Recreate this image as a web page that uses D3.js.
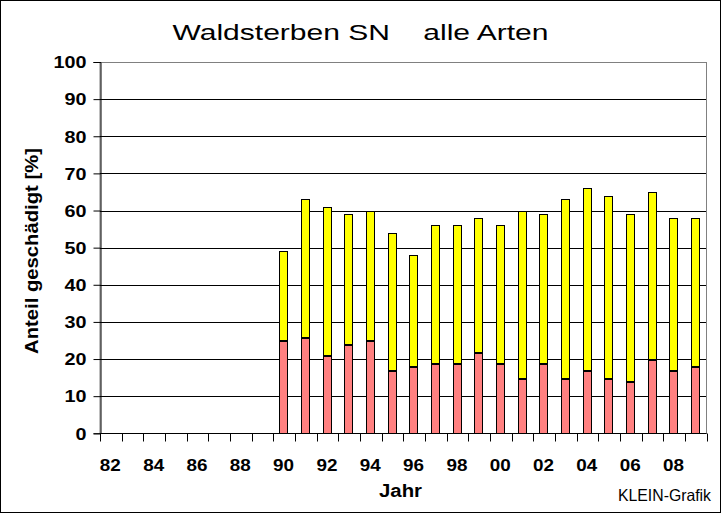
<!DOCTYPE html>
<html lang="de">
<head>
  <meta charset="utf-8" />
  <title>Waldsterben SN alle Arten</title>
  <script src="https://cdn.jsdelivr.net/npm/d3@7"></script>
  <style>
body{ margin:0; background:#fff; }
svg{ display:block; font-family: Arial, "Liberation Sans", sans-serif; }
  </style>
</head>
<body>
  <svg></svg>
  <script>
  // years 1982..2009, shown as two-digit labels
  const years = d3.range(1982, 2010).map(y => String(y % 100).padStart(2, '0'));
  const labelYears = years.filter((y, i) => i % 2 == 0);
  // red part and yellow part of damaged trees (%), values from 1990 on
  const rotAnteil  = [null,null,null,null,null,null,null,null, 25,26,21,24,25,17,18,19,19,22,19,15,19,15,17,15,14,20,17,18];
  const gelbAnteil = [null,null,null,null,null,null,null,null, 24,37,40,35,35,37,30,37,37,36,37,45,40,48,49,49,45,45,41,40];
  const yTicks = d3.range(0, 101, 10);

  const width = 721, height = 514;
  const plotL = 100, plotR = 706.5, plotT = 62, plotB = 433.3;

  const svg = d3.select('svg').attr('width', width).attr('height', height);

  svg.append('rect')
      .attr('x', 0.5).attr('y', 0.5)
      .attr('width', width - 1).attr('height', height - 2)
      .attr('fill', '#fff').attr('stroke', '#000');

  const x = d3.scaleBand()
      .domain(years)
      .range([plotL, plotR]);

  const y = d3.scaleLinear()
      .domain([0, 100])
      .range([plotB, plotT]);

  const py = v => Math.round(y(v)) + 0.5;

  // plot border (gray) and grid lines
  svg.append('rect')
      .attr('x', plotL).attr('y', py(100))
      .attr('width', Math.round(plotR) - plotL - 0.5)
      .attr('height', py(0) - py(100))
      .attr('fill', 'none').attr('stroke', '#808080');

  svg.append('g')
      .selectAll('line')
      .data(yTicks.filter(t => t > 0 && t < 100))
      .enter().append('line')
        .attr('x1', plotL).attr('x2', Math.round(plotR) - 1)
        .attr('y1', d => py(d)).attr('y2', d => py(d))
        .attr('stroke', '#000');

  // stacked bars
  const bw = 8;
  const bars = svg.append('g');
  years.forEach((yr, i) => {
    if(rotAnteil[i] == null) return;
    const cx = x(yr) + x.bandwidth() / 2 - 0.7;
    const bx = Math.round(cx - bw / 2) + 0.5;
    const r = rotAnteil[i], g = gelbAnteil[i];
    bars.append('rect')
        .attr('x', bx).attr('y', py(r + g))
        .attr('width', bw)
        .attr('height', py(r) - py(r + g))
        .attr('fill', '#ffff00').attr('stroke', '#000');
    bars.append('rect')
        .attr('x', bx).attr('y', py(r) + 1)
        .attr('width', bw)
        .attr('height', py(0) - py(r) - 1)
        .attr('fill', '#ff8080').attr('stroke', '#000');
  });

  // y axis
  const yAxis = svg.append('g')
      .attr('transform', `translate(${plotL + 0.5},0)`)
      .call(d3.axisLeft(y).tickValues(yTicks).tickSize(7).tickPadding(7));
  yAxis.select('.domain').attr('stroke', '#000');
  yAxis.selectAll('.tick line').attr('stroke', '#000');
  yAxis.selectAll('text')
      .attr('font-size', 17).attr('font-weight', 'bold')
      .attr('font-family', 'Arial, "Liberation Sans", sans-serif').attr('fill', '#000')
      .attr('dy', '0.34em')
      .attr('textLength', d => String(d).length * 11)
      .attr('lengthAdjust', 'spacingAndGlyphs');

  // x axis: ticks at category boundaries
  const xa = svg.append('g');
  xa.append('line')
      .attr('x1', plotL).attr('x2', plotR)
      .attr('y1', py(0)).attr('y2', py(0))
      .attr('stroke', '#000');
  xa.selectAll('.tk')
      .data(years.concat(['end']))
      .enter().append('line')
        .attr('x1', (d, i) => Math.round(plotL + i * x.step()) + 0.5)
        .attr('x2', (d, i) => Math.round(plotL + i * x.step()) + 0.5)
        .attr('y1', py(0)).attr('y2', py(0) + 8)
        .attr('stroke', '#000');
  xa.selectAll('text')
      .data(labelYears)
      .enter().append('text')
        .attr('x', d => x(d) + x.bandwidth() / 2 - 0.5)
        .attr('y', 471)
        .attr('text-anchor', 'middle')
        .attr('font-size', 17).attr('font-weight', 'bold')
        .attr('textLength', 21).attr('lengthAdjust', 'spacingAndGlyphs')
        .text(d => d);

  // titles
  svg.append('text')
      .attr('x', 172.5).attr('y', 40)
      .attr('font-size', 22)
      .attr('xml:space', 'preserve')
      .attr('textLength', 376).attr('lengthAdjust', 'spacingAndGlyphs')
      .text('Waldsterben SN    alle Arten');

  svg.append('text')
      .attr('x', 379).attr('y', 497)
      .attr('font-size', 17.5).attr('font-weight', 'bold')
      .attr('textLength', 43).attr('lengthAdjust', 'spacingAndGlyphs')
      .text('Jahr');

  svg.append('text')
      .attr('transform', 'translate(38,354) rotate(-90)')
      .attr('font-size', 18.5).attr('font-weight', 'bold')
      .attr('textLength', 206).attr('lengthAdjust', 'spacingAndGlyphs')
      .text('Anteil geschädigt [%]');

  svg.append('text')
      .attr('x', 618).attr('y', 500.5)
      .attr('font-size', 16.5)
      .attr('textLength', 93).attr('lengthAdjust', 'spacingAndGlyphs')
      .text('KLEIN-Grafik');
  </script>
</body>
</html>
